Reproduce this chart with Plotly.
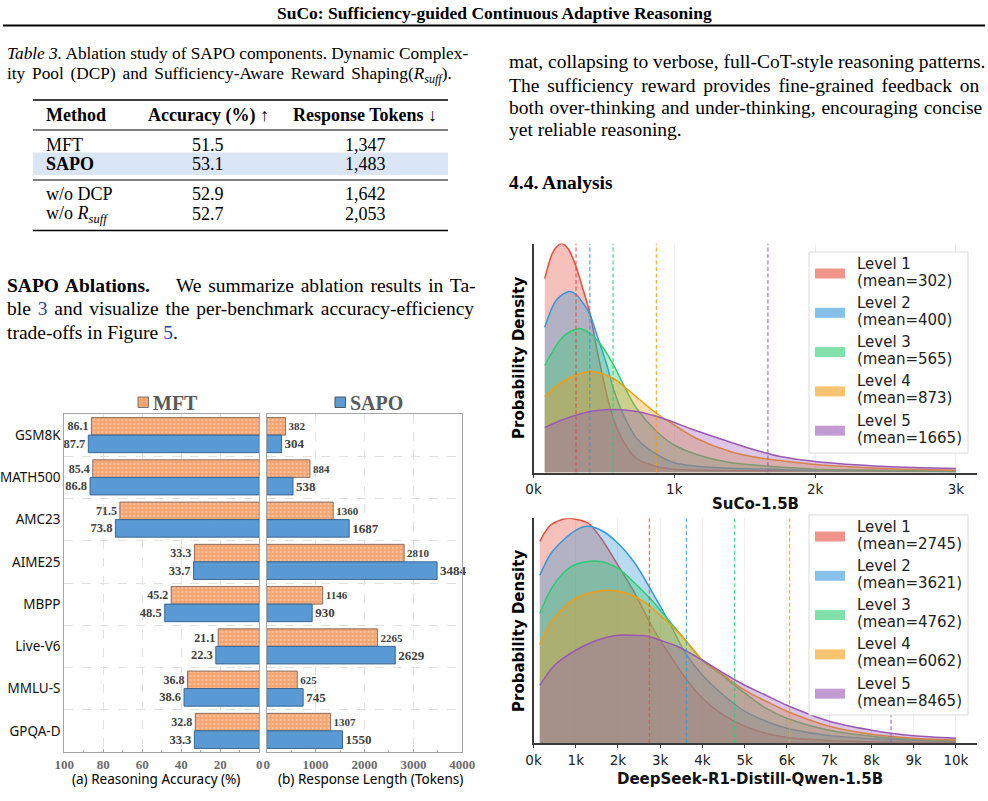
import plotly.graph_objects as go

W, H = 988, 801
SERIF = "Liberation Serif"
SANS = "Noto Sans"
DJV = "DejaVu Sans"

# ---------------- data ----------------
benchmarks = ["GSM8K", "MATH500", "AMC23", "AIME25", "MBPP", "Live-V6", "MMLU-S", "GPQA-D"]
mft_acc = [86.1, 85.4, 71.5, 33.3, 45.2, 21.1, 36.8, 32.8]
sapo_acc = [87.7, 86.8, 73.8, 33.7, 48.5, 22.3, 38.6, 33.3]
mft_len = [382, 884, 1360, 2810, 1146, 2265, 625, 1307]
sapo_len = [304, 538, 1687, 3484, 930, 2629, 745, 1550]
bar_series = ["MFT", "SAPO"]
acc_ticks = [100, 80, 60, 40, 20, 0]
len_ticks = [0, 1000, 2000, 3000, 4000]

table_header = ["Method", "Accuracy (%) \u2191", "Response Tokens \u2193"]
table_methods = ["MFT", "SAPO", "w/o DCP", "w/o <i>R</i><sub><i>suff</i></sub>"]
table_acc = ["51.5", "53.1", "52.9", "52.7"]
table_tokens = ["1,347", "1,483", "1,642", "2,053"]

levels = ["Level 1", "Level 2", "Level 3", "Level 4", "Level 5"]
level_colors = ["#E74C3C", "#3498DB", "#2ECC71", "#F39C12", "#9B59B6"]

suco_means = [302, 400, 565, 873, 1665]
suco_x = [
    [80, 130, 160, 200, 245, 302, 350, 401, 449, 520, 567, 638, 733, 875, 993, 1200, 1500, 1800, 2000, 2200, 2400, 2700, 3000],
    [80, 165, 255, 302, 354, 401, 449, 520, 567, 638, 733, 875, 993, 1159, 1396, 1751, 2000, 2500, 3000],
    [80, 212, 325, 401, 472, 567, 638, 733, 875, 993, 1159, 1396, 1632, 2000, 2500, 3000],
    [80, 212, 401, 567, 685, 875, 993, 1159, 1396, 1632, 1751, 2000, 2500, 3000],
    [80, 212, 401, 567, 733, 922, 1112, 1277, 1514, 1665, 1751, 2000, 2500, 3000],
]
suco_y = [
    [1.94, 2.18, 2.25, 2.29, 2.24, 2.06, 1.84, 1.59, 1.24, 0.78, 0.54, 0.31, 0.14, 0.06, 0.033, 0.022, 0.018, 0.018, 0.022, 0.026, 0.023, 0.015, 0.01],
    [1.45, 1.73, 1.81, 1.78, 1.69, 1.58, 1.38, 1.08, 0.84, 0.58, 0.34, 0.18, 0.10, 0.063, 0.043, 0.03, 0.02, 0.015, 0.01],
    [1.07, 1.36, 1.44, 1.39, 1.29, 1.08, 0.88, 0.64, 0.41, 0.28, 0.18, 0.10, 0.067, 0.033, 0.02, 0.013],
    [0.76, 0.91, 1.01, 0.94, 0.81, 0.59, 0.48, 0.34, 0.21, 0.14, 0.12, 0.08, 0.04, 0.023],
    [0.45, 0.53, 0.61, 0.63, 0.61, 0.54, 0.44, 0.36, 0.25, 0.19, 0.16, 0.11, 0.06, 0.04],
]
suco_ticks = [0, 1000, 2000, 3000]
suco_ticktext = ["0k", "1k", "2k", "3k"]

ds_means = [2745, 3621, 4762, 6062, 8465]
ds_x = [
    [150, 400, 700, 860, 1000, 1300, 1600, 2000, 2400, 2800, 3200, 3600, 4000, 4500, 5000, 5500, 6000, 7000, 8000, 9000, 10000],
    [150, 400, 700, 1000, 1270, 1600, 2000, 2400, 2800, 3200, 3600, 4000, 4500, 5000, 5500, 6000, 7000, 8000, 9000, 10000],
    [150, 400, 700, 1000, 1530, 2000, 2400, 2800, 3200, 3600, 4000, 4500, 4760, 5000, 5500, 6000, 7000, 8000, 9000, 10000],
    [150, 400, 700, 1000, 1400, 1780, 2200, 2600, 3000, 3400, 3800, 4000, 4500, 5000, 5500, 6000, 7000, 8000, 9000, 10000],
    [150, 500, 1000, 1500, 2000, 2300, 2700, 3000, 3400, 4000, 4500, 5000, 5500, 6000, 7000, 8000, 8465, 9000, 10000],
]
ds_y = [
    [2.02, 2.18, 2.24, 2.25, 2.24, 2.20, 2.05, 1.78, 1.50, 1.17, 0.90, 0.65, 0.45, 0.28, 0.17, 0.10, 0.057, 0.027, 0.015, 0.01, 0.007],
    [1.68, 1.89, 2.03, 2.13, 2.17, 2.13, 2.00, 1.80, 1.52, 1.22, 0.90, 0.68, 0.48, 0.32, 0.22, 0.15, 0.077, 0.045, 0.03, 0.017],
    [1.30, 1.53, 1.70, 1.79, 1.82, 1.75, 1.60, 1.43, 1.23, 1.03, 0.83, 0.67, 0.58, 0.50, 0.35, 0.25, 0.13, 0.07, 0.04, 0.023],
    [0.99, 1.20, 1.35, 1.45, 1.51, 1.53, 1.50, 1.42, 1.28, 1.12, 0.93, 0.83, 0.68, 0.53, 0.42, 0.32, 0.17, 0.09, 0.05, 0.033],
    [0.58, 0.78, 0.93, 1.03, 1.08, 1.08, 1.07, 1.03, 0.97, 0.83, 0.70, 0.58, 0.48, 0.38, 0.22, 0.13, 0.10, 0.075, 0.05],
]
ds_ticks = list(range(0, 10001, 1000))
ds_ticktext = [f"{i}k" for i in range(11)]


def rgba(hexc, a):
    h = hexc.lstrip("#")
    r, g, b = int(h[0:2], 16), int(h[2:4], 16), int(h[4:6], 16)
    return f"rgba({r},{g},{b},{a})"


def px(x):
    return x / W


def py(y):
    return 1 - y / H


fig = go.Figure()
ann = []
shapes = []


def text(x, y, s, size, family=SERIF, color="#000", anchor="left", ws=None, **kw):
    if ws:
        s = "<span style='word-spacing:%.1fpx'>%s</span>" % (ws, s)
    d = dict(x=px(x), y=py(y), xref="paper", yref="paper", text=s, showarrow=False,
             xanchor=anchor, yanchor="middle", font=dict(family=family, size=size, color=color))
    d.update(kw)
    ann.append(d)


def hline(x0, x1, y, w, color="#000"):
    shapes.append(dict(type="line", xref="paper", yref="paper", x0=px(x0), x1=px(x1),
                       y0=py(y), y1=py(y), line=dict(color=color, width=w)))


def rect(x0, x1, y0, y1, fill, line=None, lw=0, layer="above"):
    shapes.append(dict(type="rect", xref="paper", yref="paper", x0=px(x0), x1=px(x1),
                       y0=py(y1), y1=py(y0), fillcolor=fill, layer=layer,
                       line=dict(color=line or fill, width=lw)))


# ---------------- page text ----------------
BODY = 19.5
text(494, 13, "<b>SuCo: Sufficiency-guided Continuous Adaptive Reasoning</b>", 17.5, anchor="center")
hline(3, 985, 25.5, 2)

text(5, 53.5, "<i>Table 3.</i> Ablation study of SAPO components. Dynamic Complex-", 17.3)
text(5, 74.5, "ity Pool (DCP) and Sufficiency-Aware Reward Shaping(<i>R</i><sub><i>suff</i></sub>).", 17.3, ws=2.5)

# table
rect(33, 448, 152.5, 175, "#DAE6F6", layer="below")
hline(33, 448, 100, 1.5)
hline(33, 448, 130, 1)
hline(33, 448, 180, 1)
hline(33, 448, 230.5, 1.5)
TF = 18
text(44, 115, "<b>%s</b>" % table_header[0], TF)
text(208, 115, "<b>%s</b>" % table_header[1], TF, anchor="center")
text(365, 115, "<b>%s</b>" % table_header[2], TF, anchor="center")
row_y = [144.5, 164, 194, 214]
for i, yy in enumerate(row_y):
    m = table_methods[i]
    if m == "SAPO":
        m = "<b>SAPO</b>"
    text(44, yy, m, TF)
    text(208, yy, table_acc[i], TF, anchor="center")
    text(365, yy, table_tokens[i], TF, anchor="center")

LINK = "#2B3F9E"
text(5, 285, "<b>SAPO Ablations.</b>\u2003 We summarize ablation results in Ta-", BODY, ws=2.0)
text(5, 308.5, "ble <span style='color:%s'>3</span> and visualize the per-benchmark accuracy-efficiency" % LINK, BODY, ws=2.0)
text(5, 332, "trade-offs in Figure <span style='color:%s'>5</span>." % LINK, BODY)

text(507, 62, "mat, collapsing to verbose, full-CoT-style reasoning patterns.", BODY)
text(507, 85, "The sufficiency reward provides fine-grained feedback on", BODY, ws=3)
text(507, 107.5, "both over-thinking and under-thinking, encouraging concise", BODY, ws=1)
text(507, 130, "yet reliable reasoning.", BODY)
text(507, 182, "<b>4.4. Analysis</b>", BODY)

# ---------------- bar chart ----------------
MFT_C = "#F4A470"
SAPO_C = "#5B9BD5"
bar_specs = [
    (mft_acc, sapo_acc, "x", "y", 12, 12.5, lambda v: f"{v:.1f}"),
    (mft_len, sapo_len, "x2", "y2", 11, 13, lambda v: f"{v}"),
]
for mv, sv, xa, ya, fs1, fs2, fmt in bar_specs:
    fig.add_trace(go.Bar(
        y=benchmarks, x=mv, orientation="h", name=bar_series[0], xaxis=xa, yaxis=ya,
        marker=dict(color=MFT_C, line=dict(color="#8C6E60", width=1),
                    pattern=dict(shape=".", fgcolor="rgba(255,255,255,0.6)", size=4, solidity=0.35,
                                 fillmode="overlay")),
        text=[fmt(v) for v in mv], textposition="outside", constraintext="none", cliponaxis=False,
        textfont=dict(family=SERIF, size=fs1, color="#404040", weight="bold"), showlegend=False))
    fig.add_trace(go.Bar(
        y=benchmarks, x=sv, orientation="h", name=bar_series[1], xaxis=xa, yaxis=ya,
        marker=dict(color=SAPO_C, line=dict(color="#3A6690", width=1),
                    pattern=dict(shape="x", fgcolor="rgba(60,110,170,0.35)", size=3, solidity=0.2,
                                 fillmode="overlay")),
        text=[fmt(v) for v in sv], textposition="outside", constraintext="none", cliponaxis=False,
        textfont=dict(family=SERIF, size=fs2, color="#404040", weight="bold"), showlegend=False))

# bar legend (manual)
rect(138, 148.5, 397, 407.5, MFT_C, "#777", 1)
text(151, 402.5, "<b>%s</b>" % bar_series[0], 20, color="#5A5A5A")
rect(335, 345.5, 397, 407.5, SAPO_C, "#555", 1)
text(348, 402.5, "<b>%s</b>" % bar_series[1], 20, color="#5A5A5A")
text(156, 779, "(a) Reasoning Accuracy (%)", 13.5, family=SANS, anchor="center")
text(370, 779, "(b) Response Length (Tokens)", 13.5, family=SANS, anchor="center")

# ---------------- density plots ----------------
dens = [
    (suco_x, suco_y, suco_means, "x3", "y3", 2.29),
    (ds_x, ds_y, ds_means, "x4", "y4", 2.25),
]
for xs, ys, means, xa, ya, ymax in dens:
    for i in range(5):
        fig.add_trace(go.Scatter(
            x=xs[i], y=ys[i], mode="lines", xaxis=xa, yaxis=ya, name=levels[i],
            line=dict(color=level_colors[i], width=1.5, shape="spline", smoothing=0.9),
            fill="tozeroy", fillcolor=rgba(level_colors[i], 0.35), showlegend=False))
    for i in range(5):
        fig.add_trace(go.Scatter(
            x=[means[i], means[i]], y=[0, ymax], mode="lines", xaxis=xa, yaxis=ya,
            line=dict(color=rgba(level_colors[i], 0.8), width=1.3, dash="4px,2.5px"),
            showlegend=False, hoverinfo="skip"))

# density legends (manual)
for means, y0, y1 in [(suco_means, 252, 453), (ds_means, 515, 715)]:
    rect(809, 968, y0, y1, "rgba(255,255,255,0.9)", "#DADADA", 1)
    for i in range(5):
        yc = y0 + 21.5 + i * 39.3
        rect(815, 845, yc - 5, yc + 5, rgba(level_colors[i], 0.6))
        text(855, yc - 10, levels[i], 15, family=DJV, color="#222")
        text(855, yc + 7, f"(mean={means[i]})", 15, family=DJV, color="#222")

text(519, 358, "<b>Probability Density</b>", 15, family=DJV, anchor="center", textangle=-90)
text(519, 631, "<b>Probability Density</b>", 15, family=DJV, anchor="center", textangle=-90)
text(755, 504, "<b>SuCo-1.5B</b>", 15, family=DJV, anchor="center", color="#111")
text(750, 779, "<b>DeepSeek-R1-Distill-Qwen-1.5B</b>", 15, family=DJV, anchor="center", color="#111")

# ---------------- axes ----------------
bar_y_dom = [py(752), py(414)]
grid_c = "#E2E2E2"
tickfont_bar = dict(family=SERIF, size=13, color="#6B6B6B", weight="bold")
layout_axes = dict(
    xaxis=dict(domain=[px(64.3), px(259.3)], range=[100, 0], tickvals=acc_ticks, anchor="y",
               showline=True, mirror=True, linecolor="#A6A6A6", linewidth=1.2, automargin=False,
               showgrid=True, gridcolor=grid_c, griddash="dash", zeroline=False,
               ticks="inside", ticklen=3, tickcolor="#A6A6A6", tickfont=tickfont_bar,
               minor=dict(dtick=10, ticks="inside", ticklen=2, tickcolor="#A6A6A6", showgrid=False)),
    yaxis=dict(domain=bar_y_dom, type="category", categoryorder="array", categoryarray=benchmarks,
               range=[7.5, -0.5], anchor="x", showline=True, mirror=True, linecolor="#A6A6A6",
               linewidth=1.2, tickson="boundaries", showgrid=True, gridcolor=grid_c, griddash="dash",
               ticks="", automargin=False, tickfont=dict(family=SANS, size=13.5, color="#111")),
    xaxis2=dict(domain=[px(266.7), px(462.3)], range=[0, 4000], tickvals=len_ticks, anchor="y2",
                showline=True, mirror=True, linecolor="#A6A6A6", linewidth=1.2, automargin=False,
                showgrid=True, gridcolor=grid_c, griddash="dash", zeroline=False,
                ticks="inside", ticklen=3, tickcolor="#A6A6A6", tickfont=tickfont_bar,
                minor=dict(dtick=500, ticks="inside", ticklen=2, tickcolor="#A6A6A6", showgrid=False)),
    yaxis2=dict(domain=bar_y_dom, type="category", categoryorder="array", categoryarray=benchmarks,
                range=[7.5, -0.5], anchor="x2", showline=True, mirror=True, linecolor="#A6A6A6",
                linewidth=1.2, tickson="boundaries", showgrid=True, gridcolor=grid_c, griddash="dash",
                ticks="", showticklabels=False, automargin=False),
)
dens_axes = [
    ("xaxis3", "yaxis3", "x3", "y3", [0, 3150], suco_ticks, suco_ticktext, 2.29, 243.5, 472.5),
    ("xaxis4", "yaxis4", "x4", "y4", [0, 10500], ds_ticks, ds_ticktext, 2.25, 518.3, 743.2),
]
for xk, yk, xn, yn, xr, tv, tt, ymax, top, base in dens_axes:
    layout_axes[xk] = dict(domain=[px(533.5), px(977)], range=xr, anchor=yn, tickvals=tv, ticktext=tt,
                           showline=True, linecolor="#3A3A3A", linewidth=1.5, ticks="outside",
                           ticklen=3.5, tickcolor="#3A3A3A", showgrid=True, gridcolor="#EFEFEF",
                           zeroline=False, automargin=False,
                           tickfont=dict(family=DJV, size=13.5, color="#222"))
    layout_axes[yk] = dict(domain=[py(base), py(top)], range=[0, ymax], anchor=xn, showline=True,
                           linecolor="#3A3A3A", linewidth=1.5, ticks="", showticklabels=False,
                           showgrid=False, zeroline=False, automargin=False)

fig.update_layout(
    width=W, height=H, margin=dict(l=0, r=0, t=0, b=0, pad=0, autoexpand=False),
    paper_bgcolor="white", plot_bgcolor="rgba(0,0,0,0)",
    barmode="group", bargap=0.17, bargroupgap=0.0,
    annotations=ann, shapes=shapes, showlegend=False,
    **layout_axes,
)

fig.write_html("out.html")
